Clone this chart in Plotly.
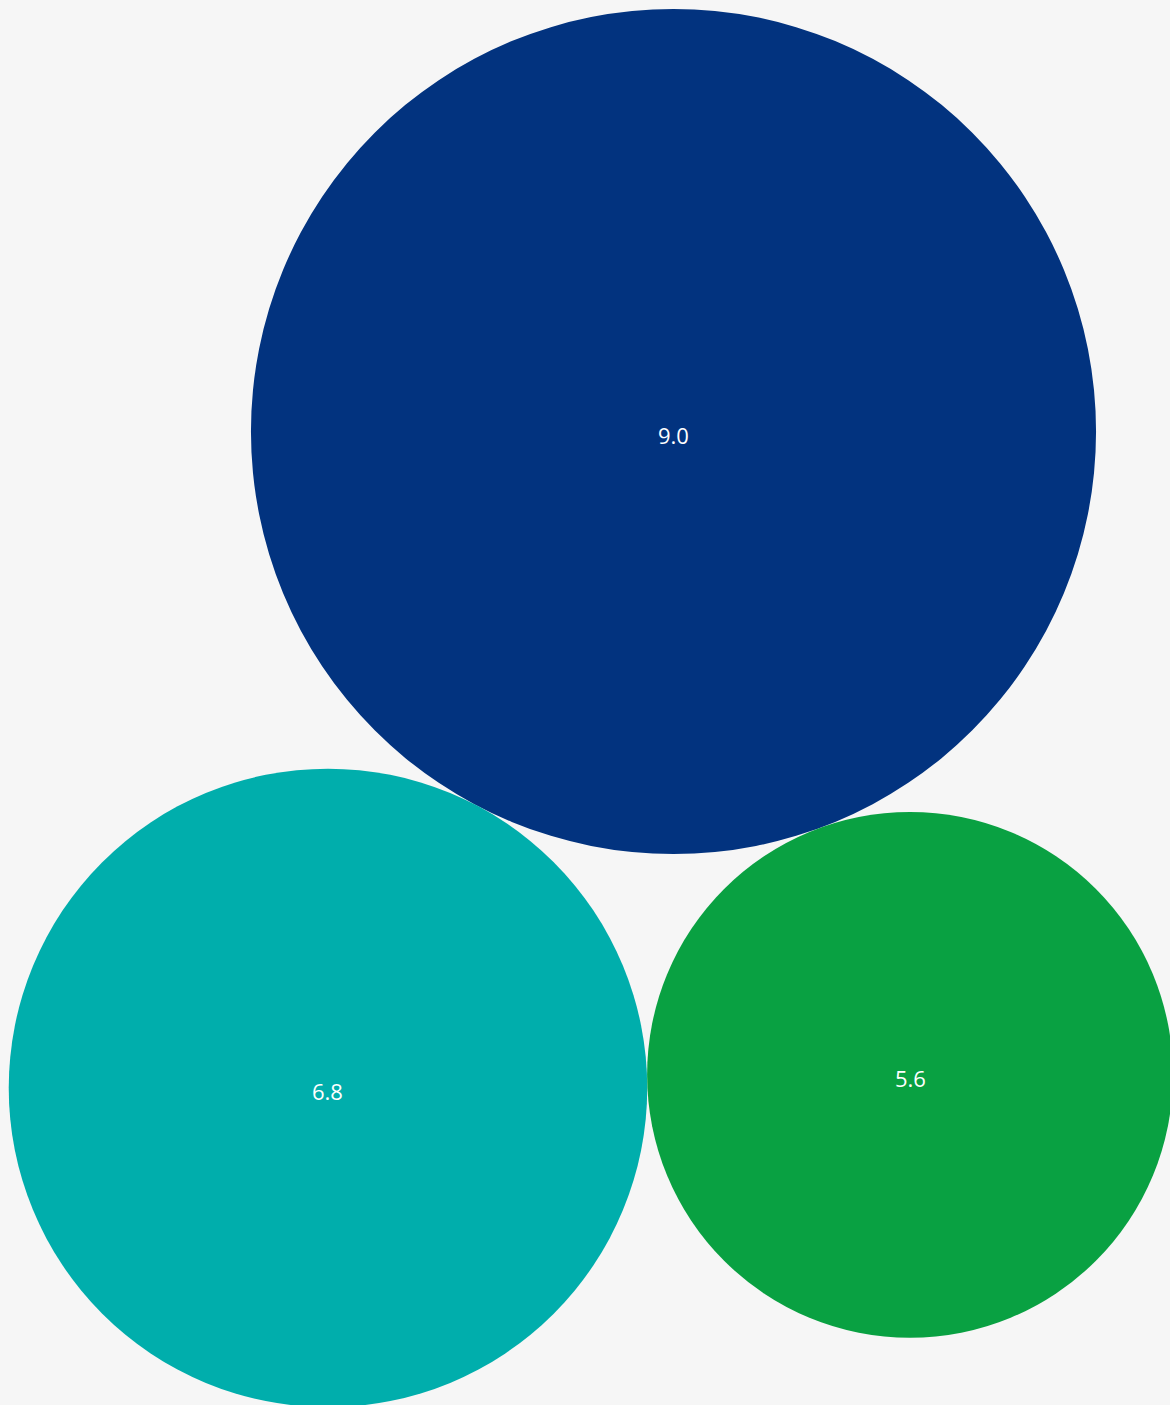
import math
import plotly.graph_objects as go

# Data
categories = ["A", "B", "C"]
values = [9.0, 6.8, 5.6]
labels = ["9.0", "6.8", "5.6"]
colors = ["#02337F", "#00AEAC", "#09A142"]

# Layout parameters (packed bubble layout)
W, H = 1170, 1405
PX_PER_UNIT = 46.95              # pixels per value unit of radius
ANGLE_2 = math.radians(-117.76)  # direction from the largest bubble to the second
ORIGIN_PX = (673.5, 431.5)       # pixel position of the largest bubble's centre

# Compute mutually tangent packing from the values
r1, r2, r3 = values
d12, d13, d23 = r1 + r2, r1 + r3, r2 + r3
a = math.acos((d12 ** 2 + d13 ** 2 - d23 ** 2) / (2 * d12 * d13))
centers = [
    (0.0, 0.0),
    (d12 * math.cos(ANGLE_2), d12 * math.sin(ANGLE_2)),
    (d13 * math.cos(ANGLE_2 + a), d13 * math.sin(ANGLE_2 + a)),
]

fig = go.Figure()
shapes = []
annotations = []
for (cx, cy), r, col, lab in zip(centers, values, colors, labels):
    shapes.append(dict(type="circle", xref="x", yref="y",
                       x0=cx - r, x1=cx + r, y0=cy - r, y1=cy + r,
                       fillcolor=col, line=dict(width=0), layer="below"))
    annotations.append(dict(x=cx, y=cy, xref="x", yref="y", text=lab,
                            showarrow=False, yshift=-3,
                            font=dict(color="white", size=22, family="Open Sans")))

# invisible trace so the axes are created
fig.add_trace(go.Scatter(
    x=[c[0] for c in centers], y=[c[1] for c in centers],
    mode="markers", marker=dict(opacity=0), hoverinfo="skip", showlegend=False,
))

s = PX_PER_UNIT
fig.update_layout(
    width=W, height=H,
    margin=dict(l=0, r=0, t=0, b=0),
    paper_bgcolor="#F6F6F6", plot_bgcolor="#F6F6F6",
    shapes=shapes,
    annotations=annotations,
    xaxis=dict(range=[-ORIGIN_PX[0] / s, (W - ORIGIN_PX[0]) / s],
               visible=False, fixedrange=True),
    yaxis=dict(range=[(ORIGIN_PX[1] - H) / s, ORIGIN_PX[1] / s],
               visible=False, fixedrange=True),
    showlegend=False,
)

fig.write_html(
    "out.html",
    config={"displayModeBar": False},
    post_script="document.body.style.margin='0';document.body.style.overflow='hidden';"
                "document.body.style.background='#F6F6F6';",
)
